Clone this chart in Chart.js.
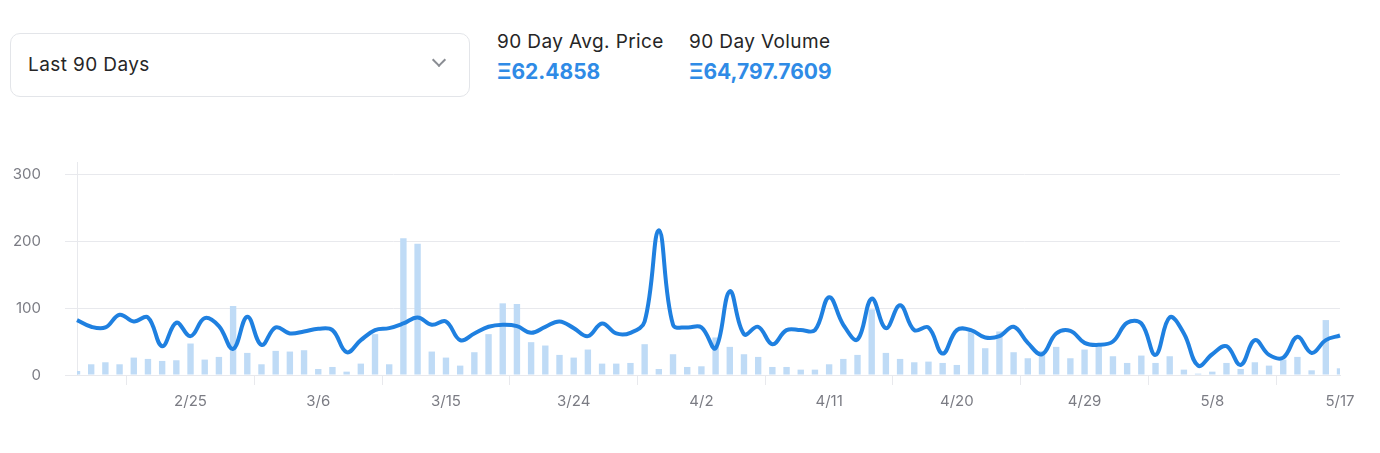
<!DOCTYPE html>
<html>
<head>
<meta charset="utf-8">
<script src="https://cdn.jsdelivr.net/npm/chart.js@4"></script>
<style>
  html, body { margin: 0; padding: 0; background: #fff; }
  body { width: 1380px; height: 453px; position: relative; overflow: hidden; font-family: Inter, "Open Sans", sans-serif; }
  .select {
    position: absolute; left: 10px; top: 33px; width: 458px; height: 62px;
    border: 1px solid #e3e5e9; border-radius: 10px; box-sizing: content-box;
  }
  .select span { position: absolute; left: 17px; top: 19px; font-size: 19px; letter-spacing: 0.4px; color: #262626; }
  .chev {
    position: absolute; left: 423px; top: 21px; width: 8px; height: 8px;
    border-right: 2px solid #8a8d93; border-bottom: 2px solid #8a8d93; transform: rotate(45deg);
  }
  .stat { position: absolute; top: 30px; }
  .stat .lbl { font-size: 19px; letter-spacing: 0.4px; color: #262626; }
  .stat .val { font-size: 21px; font-weight: 700; color: #2f8be6; margin-top: 6px; }
  #wrap { position: absolute; left: 0; top: 129px; width: 1380px; height: 319px; }
</style>
</head>
<body>
<div class="select"><span>Last 90 Days</span><div class="chev"></div></div>
<div class="stat" style="left:497px"><div class="lbl">90 Day Avg. Price</div><div class="val">Ξ62.4858</div></div>
<div class="stat" style="left:689px"><div class="lbl">90 Day Volume</div><div class="val">Ξ64,797.7609</div></div>
<div id="wrap"><canvas id="chart"></canvas></div>
<script>
const dates = [
  "2/17", "2/18", "2/19", "2/20", "2/21", "2/22", "2/23", "2/24", "2/25", "2/26", "2/27", "2/28",
  "3/1", "3/2", "3/3", "3/4", "3/5", "3/6", "3/7", "3/8", "3/9", "3/10", "3/11", "3/12", "3/13",
  "3/14", "3/15", "3/16", "3/17", "3/18", "3/19", "3/20", "3/21", "3/22", "3/23", "3/24", "3/25",
  "3/26", "3/27", "3/28", "3/29", "3/30", "3/31",
  "4/1", "4/2", "4/3", "4/4", "4/5", "4/6", "4/7", "4/8", "4/9", "4/10", "4/11", "4/12", "4/13",
  "4/14", "4/15", "4/16", "4/17", "4/18", "4/19", "4/20", "4/21", "4/22", "4/23", "4/24", "4/25",
  "4/26", "4/27", "4/28", "4/29", "4/30",
  "5/1", "5/2", "5/3", "5/4", "5/5", "5/6", "5/7", "5/8", "5/9", "5/10", "5/11", "5/12", "5/13",
  "5/14", "5/15", "5/16", "5/17"
];

// average price per day
const avgPrice = [
  82, 72, 71, 90, 80, 86, 43, 78, 58, 85,
  73, 39, 87, 45, 71, 62, 65, 69, 67, 34,
  52, 67, 70, 77, 86, 75, 80, 52, 62, 72,
  75, 73, 63, 72, 80, 70, 58, 77, 62, 63,
  80, 216, 75, 71, 71, 40, 125, 61, 72, 46,
  67, 67, 67, 116, 75, 53, 114, 70, 104, 67,
  71, 32, 67, 67, 56, 58, 72, 48, 31, 62,
  66, 48, 45, 50, 78, 77, 30, 86, 62, 14,
  31, 43, 15, 52, 30, 26, 57, 33, 52, 59
];

// daily volume
const volume = [
  6, 16, 19, 16, 26, 24, 21, 22, 47, 23,
  27, 103, 33, 16, 36, 35, 37, 9, 12, 5,
  17, 61, 16, 204, 196, 35, 26, 14, 34, 61,
  107, 106, 49, 44, 30, 26, 38, 17, 17, 18,
  46, 9, 31, 12, 13, 56, 42, 31, 27, 12,
  12, 8, 8, 16, 24, 30, 98, 33, 24, 19,
  20, 18, 15, 64, 40, 65, 34, 25, 36, 42,
  25, 38, 42, 28, 18, 29, 18, 28, 8, 2,
  5, 18, 9, 19, 14, 23, 27, 7, 82, 10
];
</script>
<script>
const gridColor = "#e8e9ed";
const tickColor = "#7b7c84";

new Chart(document.getElementById("chart"), {
  data: {
    labels: dates,
    datasets: [
      {
        type: "line",
        data: avgPrice,
        borderColor: "#1f80e0",
        borderWidth: 4,
        tension: 0.4,
        pointRadius: 0,
        fill: false,
        order: 0,
      },
      {
        type: "bar",
        data: volume,
        backgroundColor: "#bfdbf6",
        borderWidth: 0,
        barPercentage: 0.45,
        categoryPercentage: 1,
        order: 1,
      },
    ],
  },
  options: {
    responsive: true,
    maintainAspectRatio: false,
    animation: false,
    layout: { padding: { left: 13, right: 40, top: 13, bottom: 31 } },
    plugins: { legend: { display: false }, tooltip: { enabled: false } },
    scales: {
      x: {
        offset: false,
        grid: { drawOnChartArea: false, color: gridColor, tickLength: 10 },
        border: { color: gridColor },
        afterBuildTicks: (axis) => {
          axis.ticks = axis.ticks.filter((t) => (dates.length - 1 - t.value) % 9 === 0);
        },
        ticks: {
          autoSkip: false,
          maxRotation: 0,
          padding: 7,
          color: tickColor,
          font: { family: "Inter", size: 15 },
        },
      },
      y: {
        min: 0,
        max: 318,
        grid: { color: gridColor, tickLength: 12 },
        border: { color: gridColor },
        afterBuildTicks: (axis) => {
          axis.ticks = axis.ticks.filter((t) => t.value % 100 === 0);
        },
        afterFit: (axis) => { axis.width = 64; },
        ticks: {
          stepSize: 100,
          includeBounds: false,
          padding: 24,
          color: tickColor,
          font: { family: "Inter", size: 15 },
        },
      },
    },
  },
});
</script>
</body>
</html>
